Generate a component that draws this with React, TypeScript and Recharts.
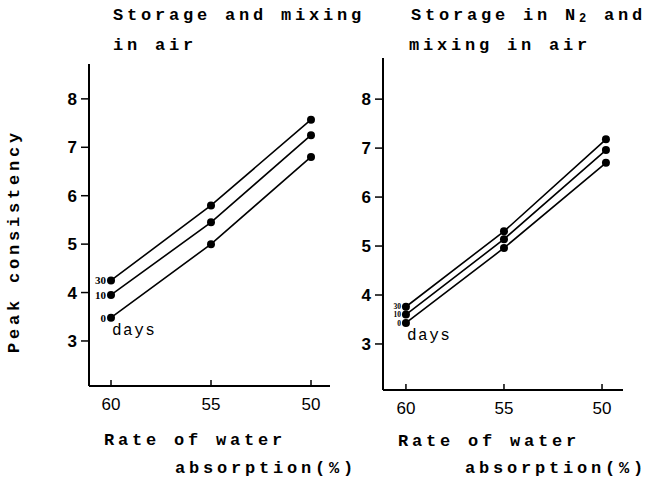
import React from 'react';
import { LineChart, Line, XAxis, YAxis } from 'recharts';

// absorption rate (%) at which consistency was measured
const absorptionAir = [60, 55, 50];
const absorptionN2 = [60, 55, 49.8];

// peak consistency, stored & mixed in air
const air30 = [4.25, 5.8, 7.57];
const air10 = [3.95, 5.45, 7.25];
const air0 = [3.48, 5.0, 6.8];

// peak consistency, stored in N2, mixed in air
const n2_30 = [3.76, 5.3, 7.18];
const n2_10 = [3.6, 5.14, 6.96];
const n2_0 = [3.43, 4.96, 6.7];

const yTicks = [3, 4, 5, 6, 7, 8];
const xTicks = [60, 55, 50];
const seriesNames = ['30', '10', '0'];

const MONO = '"Liberation Mono", "DejaVu Sans Mono", monospace';
const SANS = '"Liberation Sans", Arial, sans-serif';
const SERIF = '"Liberation Serif", "DejaVu Serif", serif';

const buildRows = (xs: number[], a: number[], b: number[], c: number[]) =>
  xs.map((x, i) => ({ x, d30: a[i], d10: b[i], d0: c[i] }));

const airRows = buildRows(absorptionAir, air30, air10, air0);
const n2Rows = buildRows(absorptionN2, n2_30, n2_10, n2_0);

const XTick = ({ x, y, payload }: any) => (
  <g>
    <line x1={x} x2={x} y1={y} y2={y - 6} stroke="#000" strokeWidth={1.5} />
    <text x={x} y={y + 24} textAnchor="middle" fontFamily={SANS} fontSize={17} fill="#000">
      {payload.value}
    </text>
  </g>
);

// label only the first point of each line (the 60% end)
const seriesLabel = (name: string, withDays: boolean, size: number) => (props: any) => {
  const { x, y, index } = props;
  if (index !== 0) return <g />;
  return (
    <g>
      <text x={x - 5} y={y + size * 0.35} textAnchor="end" fontFamily={SERIF} fontWeight="bold" fontSize={size} fill="#000">
        {name}
      </text>
      {withDays && (
        <text x={x + 1} y={y + 17} fontFamily={MONO} fontSize={16} letterSpacing={1.5} fill="#000">
          days
        </text>
      )}
    </g>
  );
};

const Panel = ({ rows, margin, xDomain, yDomain, labelSize }: any) => (
  <div style={{ position: 'absolute', left: 0, top: 0 }}>
    <LineChart width={649} height={485} data={rows} margin={margin}>
      <XAxis
        dataKey="x"
        type="number"
        domain={xDomain}
        reversed
        allowDataOverflow
        ticks={xTicks}
        height={1}
        tickSize={0}
        tickMargin={0}
        tickLine={false}
        tick={<XTick />}
        axisLine={{ stroke: '#000', strokeWidth: 2 }}
      />
      <YAxis
        type="number"
        domain={yDomain}
        allowDataOverflow
        ticks={yTicks}
        width={1}
        tickSize={8}
        tickMargin={4}
        tickLine={{ stroke: '#000', strokeWidth: 1.5 }}
        axisLine={{ stroke: '#000', strokeWidth: 2 }}
        tick={{ fill: '#000', fontFamily: SANS, fontSize: 17, fontWeight: 'bold' }}
      />
      {['d30', 'd10', 'd0'].map((k, i) => (
        <Line
          key={k}
          dataKey={k}
          stroke="#000"
          strokeWidth={1.6}
          dot={{ r: 4, fill: '#000', stroke: '#000', strokeWidth: 0 }}
          label={seriesLabel(seriesNames[i], k === 'd0', labelSize)}
          isAnimationActive={false}
        />
      ))}
    </LineChart>
  </div>
);

const textStyle = { fontFamily: MONO, fontSize: 17, letterSpacing: 3.8, fill: '#000', fontWeight: 'bold' as const };

export default function App() {
  return (
    <div style={{ position: 'absolute', left: 0, top: 0, width: 649, height: 485, background: '#fff' }}>
      <Panel rows={airRows} margin={{ top: 64, left: 88, right: 319, bottom: 98 }} xDomain={[49.05, 61.1]} yDomain={[2.07, 8.72]} labelSize={11} />
      <Panel rows={n2Rows} margin={{ top: 58, left: 382, right: 26, bottom: 94 }} xDomain={[48.93, 61.17]} yDomain={[2.06, 8.84]} labelSize={7.5} />
      <svg width={649} height={485} style={{ position: 'absolute', left: 0, top: 0, pointerEvents: 'none' }}>
        <text x={113} y={20} {...textStyle}>Storage and mixing</text>
        <text x={113} y={50} {...textStyle}>in air</text>
        <text x={411} y={20} {...textStyle}>
          Storage in N<tspan fontSize={12} dy={2}>2</tspan>
          <tspan dy={-2}> and</tspan>
        </text>
        <text x={409} y={50} {...textStyle}>mixing in air</text>
        <text x={104} y={445} {...textStyle}>Rate of water</text>
        <text x={175} y={473} {...textStyle}>absorption(%)</text>
        <text x={398} y={446} {...textStyle}>Rate of water</text>
        <text x={465} y={473} {...textStyle}>absorption(%)</text>
        <text x={19} y={241} transform="rotate(-90 19 241)" textAnchor="middle" {...textStyle}>
          Peak consistency
        </text>
      </svg>
    </div>
  );
}
